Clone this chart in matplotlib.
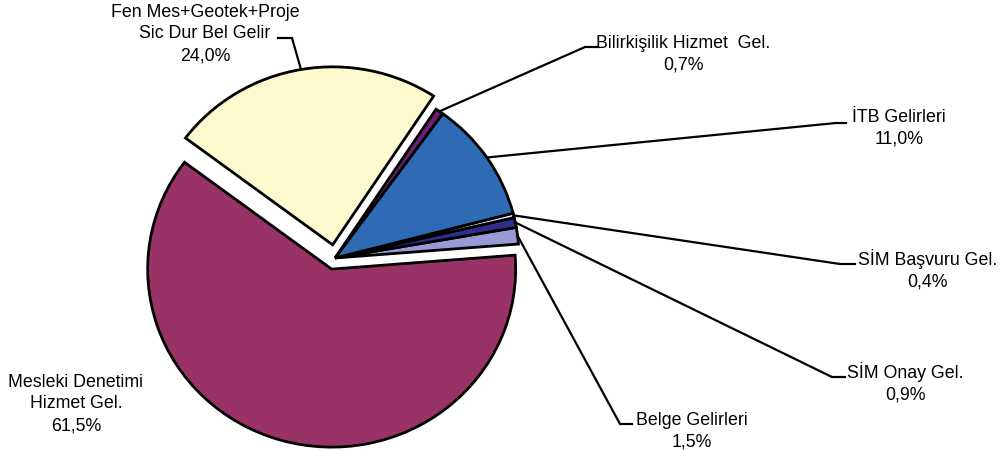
import numpy as np
import matplotlib
matplotlib.use("Agg")
import matplotlib.pyplot as plt

# slices, counter-clockwise from the right-hand side
labels = ["Belge Gelirleri", "SİM Onay Gel.", "SİM Başvuru Gel.", "İTB Gelirleri",
          "Bilirkişilik Hizmet  Gel.", "Fen Mes+Geotek+Proje\nSic Dur Bel Gelir",
          "Mesleki Denetimi\nHizmet Gel."]
shares = [1.5, 0.9, 0.4, 11.0, 0.7, 24.0, 61.5]
colors = ["#9999D6", "#2E2E8C", "#E8F4F4", "#2F6BB5", "#6B2077", "#FDF9CE", "#993366"]
explode = [0, 0, 0, 0, 0, 0.075, 0.065]

# layout in pixels of the 1007x450 picture
W, H = 1007, 450
cx, cy, rx, ry = 335, 258, 184, 178
text_xy = [(692, 431), (905, 383), (928, 270), (899, 128), (683, 54), (205, 34), (76, 404)]
elbow = [((632, 424), (620, 424)), ((845, 377), (832, 377)), ((855, 264), (840, 264)),
         ((846, 123), (836, 123)), ((598, 47), (585, 47)), ((278, 38), (292, 38)), None]


def px(x, y):
    return (x - cx) / rx, (cy - y) / ry


plt.rcParams["font.family"] = ["Liberation Sans", "DejaVu Sans"]
fig = plt.figure(figsize=(W / 100, H / 100), dpi=100)
ax = fig.add_axes([0, 0, 1, 1])

wedges, _ = ax.pie(shares, colors=colors, explode=explode, startangle=4.5,
                   counterclock=True, radius=1.0,
                   wedgeprops=dict(edgecolor="black", linewidth=2.0))

for w, lab, s, txy, el in zip(wedges, labels, shares, text_xy, elbow):
    tx, ty = px(*txy)
    pct = f"{s:.1f}%".replace(".", ",")
    ax.text(tx, ty, f"{lab}\n{pct}", ha="center", va="center",
            fontsize=12.8, linespacing=1.35)
    if el is None:
        continue
    mid = np.deg2rad((w.theta1 + w.theta2) / 2)
    ox, oy = w.center
    ax_, ay_ = ox + w.r * np.cos(mid), oy + w.r * np.sin(mid)
    (e1x, e1y), (e2x, e2y) = px(*el[0]), px(*el[1])
    # from slice edge to the elbow, then a short horizontal piece
    if abs(e1x - ax_) > abs(e2x - ax_):
        e1x, e1y, e2x, e2y = e2x, e2y, e1x, e1y
    ax.plot([ax_, e1x, e2x], [ay_, e1y, e2y], color="black", lw=1.6,
            solid_joinstyle="miter", zorder=0)

x0, y1 = px(0, 0)
x1, y0 = px(W, H)
ax.set_xlim(x0, x1)
ax.set_ylim(y0, y1)
ax.set_aspect("auto")
ax.axis("off")

fig.savefig("out.png", dpi=100)
